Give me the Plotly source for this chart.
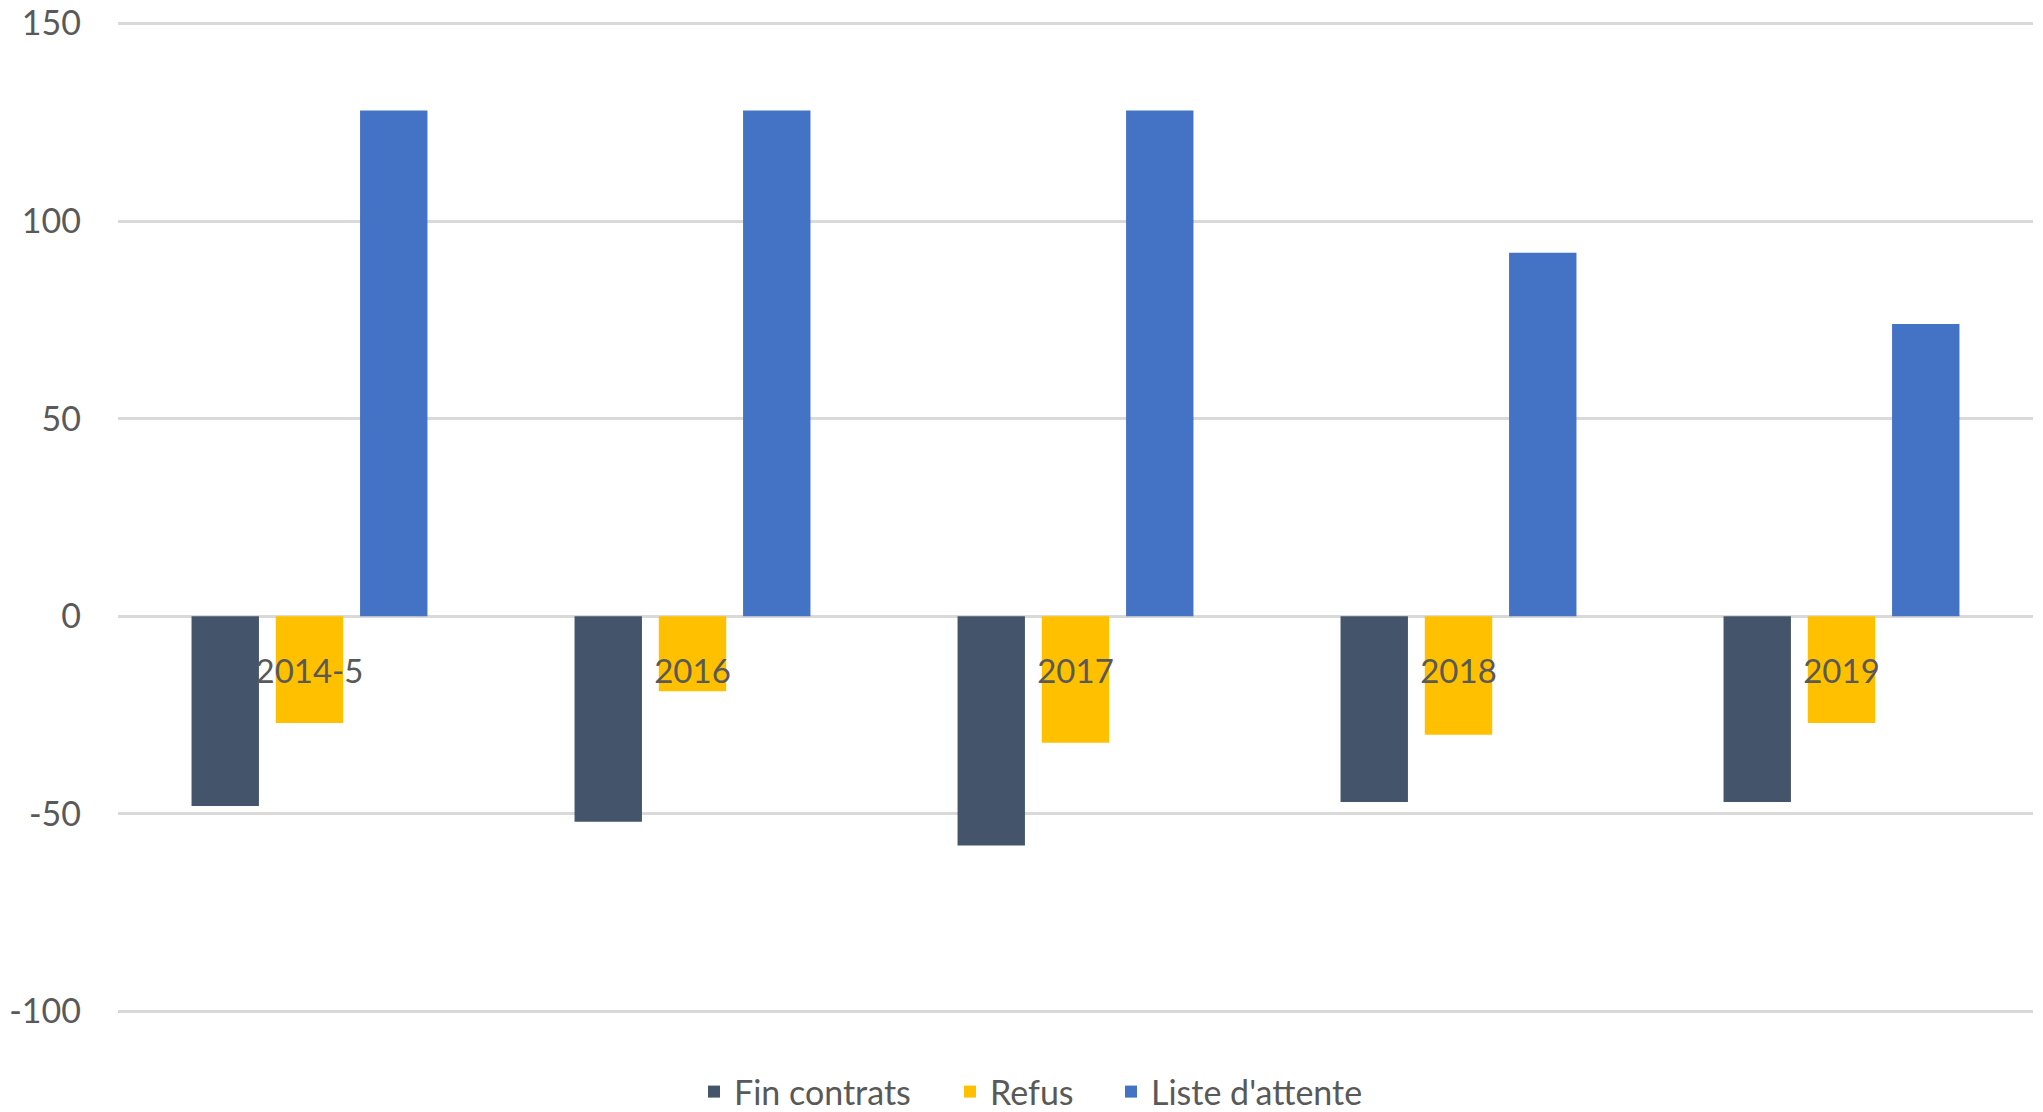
import plotly.graph_objects as go

categories = ["2014-5", "2016", "2017", "2018", "2019"]
fin_contrats = [-48, -52, -58, -47, -47]
refus = [-27, -19, -32, -30, -27]
liste_attente = [128, 128, 128, 92, 74]
y_ticks = [-100, -50, 0, 50, 100, 150]
y_tick_text = ["-100", "-50", "0", "50", "100", "150"]

FONT = "Lato"
TXT = "#595959"
W, H = 2043, 1112

series = [
    ("Fin contrats", fin_contrats, "#44546A", "legend", 694),
    ("Refus", refus, "#FFC000", "legend2", 950),
    ("Liste d'attente", liste_attente, "#4472C4", "legend3", 1111),
]

fig = go.Figure()
legends = {}
for name, vals, color, lg, lx in series:
    fig.add_trace(go.Bar(name=name, x=categories, y=vals, legend=lg,
                         marker=dict(color=color, line=dict(width=0))))
    legends[lg] = dict(orientation="h", xref="container", yref="container",
                       x=lx / W, xanchor="left", y=1 - 1092 / H, yanchor="middle",
                       font=dict(family=FONT, size=34, color=TXT),
                       bgcolor="rgba(0,0,0,0)", borderwidth=0)

fig.update_layout(
    width=W, height=H,
    margin=dict(l=118, r=10, t=22, b=99, autoexpand=False),
    paper_bgcolor="white", plot_bgcolor="white",
    barmode="group", bargap=0.34, bargroupgap=0.2,
    font=dict(family=FONT, size=33, color=TXT),
    showlegend=True,
    xaxis=dict(type="category", anchor="free", position=0.4, automargin=False,
               showline=False, showgrid=False, zeroline=False, ticks="",
               tickfont=dict(family=FONT, size=33, color=TXT),
               ticklabelstandoff=32),
    yaxis=dict(range=[-100.4, 150.4], tickvals=y_ticks, ticktext=y_tick_text,
               automargin=False,
               showgrid=True, gridcolor="#D9D9D9", gridwidth=2.5,
               zeroline=False, showline=False, ticks="",
               tickfont=dict(family=FONT, size=34, color=TXT),
               ticklabelstandoff=36),
    **legends,
)

fig.write_html("out.html")
